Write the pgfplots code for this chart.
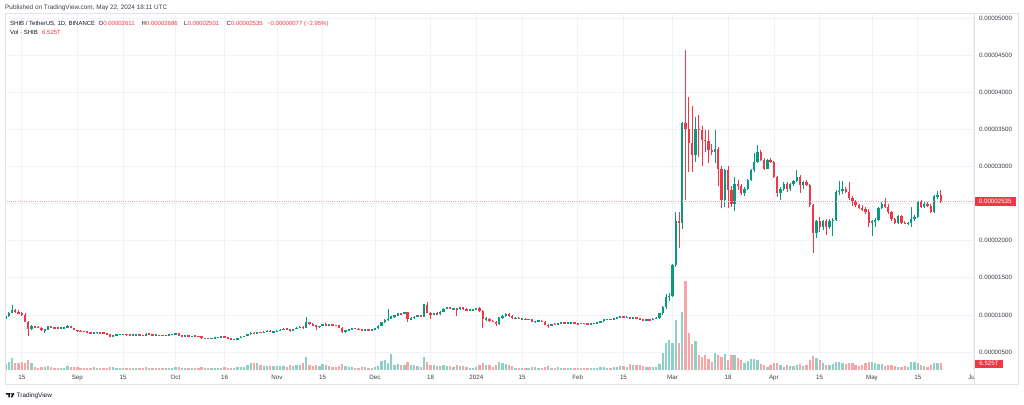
\documentclass[border=0pt]{standalone}
\usepackage{fontspec}
\setmainfont{Liberation Sans}
\usepackage{pgfplots}
\usepackage{pgfplotstable}
\pgfplotsset{compat=1.18}
\definecolor{upc}{HTML}{089981}
\definecolor{dnc}{HTML}{F23645}
\definecolor{upv}{HTML}{8ED0C6}
\definecolor{dnv}{HTML}{F8A5AA}
\definecolor{gridc}{HTML}{F0F3FA}
\definecolor{framec}{HTML}{E0E3EB}
\definecolor{txt}{HTML}{131722}
\definecolor{txt2}{HTML}{3B3F4A}
\definecolor{pline}{HTML}{F7A0A6}
\pgfplotstableread{
d o h l c v
-22 9.50 10.00 9.40 9.80 5.6
-21 9.80 10.40 9.70 10.30 7.4
-20 10.30 11.30 10.20 10.60 11.2
-19 10.60 10.80 10.30 10.40 6.5
-18 10.40 10.60 10.10 10.20 6.5
-17 10.20 10.40 9.90 10.05 7.4
-16 10.05 10.20 9.00 9.10 6.5
-15 9.10 9.20 7.20 8.10 9.3
-14 8.10 8.60 7.90 8.45 6.5
-13 8.45 8.55 8.25 8.35 2.8
-12 8.35 8.45 8.20 8.30 1.9
-11 8.30 8.35 7.85 7.95 2.8
-10 7.95 8.05 7.55 8.00 2.8
-9 8.00 8.55 7.95 8.50 3.7
-8 8.50 8.55 8.20 8.30 2.8
-7 8.30 8.35 8.15 8.25 1.9
-6 8.25 8.30 8.18 8.22 1.9
-5 8.22 8.30 8.15 8.25 1.9
-4 8.25 8.32 8.15 8.28 1.9
-3 8.28 8.60 8.20 8.45 3.7
-2 8.45 8.50 8.20 8.25 2.8
-1 8.25 8.30 7.90 7.95 2.8
0 7.95 8.00 7.75 7.85 2.8
1 7.85 7.90 7.75 7.80 1.9
2 7.80 7.85 7.70 7.78 1.9
3 7.78 7.80 7.55 7.60 1.9
4 7.60 7.65 7.50 7.55 1.9
5 7.55 7.70 7.50 7.62 2.8
6 7.62 7.70 7.55 7.65 1.9
7 7.65 7.70 7.55 7.60 1.9
8 7.60 7.65 7.55 7.58 1.9
9 7.58 7.60 7.35 7.40 1.9
10 7.40 7.42 7.00 7.05 2.8
11 7.05 7.30 7.00 7.25 2.8
12 7.25 7.40 7.20 7.35 1.9
13 7.35 7.45 7.30 7.40 1.9
14 7.40 7.48 7.35 7.42 1.9
15 7.42 7.45 7.25 7.30 1.9
16 7.30 7.35 7.20 7.28 1.9
17 7.28 7.40 7.20 7.32 1.9
18 7.32 7.40 7.28 7.36 1.9
19 7.36 7.40 7.25 7.30 1.9
20 7.30 7.32 7.15 7.20 1.9
21 7.20 7.60 7.18 7.45 2.8
22 7.45 7.50 7.35 7.40 1.9
23 7.40 7.42 7.25 7.28 1.9
24 7.28 7.35 7.20 7.30 1.9
25 7.30 7.32 7.20 7.25 1.9
26 7.25 7.35 7.18 7.22 1.9
27 7.22 7.35 7.20 7.32 1.9
28 7.32 7.40 7.28 7.35 1.9
29 7.35 7.45 7.30 7.40 1.9
30 7.40 7.60 7.38 7.55 2.8
31 7.55 7.62 7.20 7.22 2.8
32 7.22 7.28 7.12 7.18 1.9
33 7.18 7.25 7.10 7.20 1.9
34 7.20 7.25 7.08 7.12 1.9
35 7.12 7.22 7.08 7.18 1.9
36 7.18 7.20 7.10 7.14 1.9
37 7.14 7.18 7.05 7.10 1.9
38 7.10 7.12 6.80 6.85 2.8
39 6.85 6.95 6.80 6.90 1.9
40 6.90 6.95 6.78 6.82 1.9
41 6.82 6.90 6.75 6.88 1.9
42 6.88 7.00 6.85 6.98 1.9
43 6.98 7.05 6.95 7.02 1.9
44 7.02 7.10 6.98 7.05 1.9
45 7.05 7.20 6.95 7.00 2.8
46 7.00 7.02 6.80 6.85 1.9
47 6.85 6.90 6.70 6.72 1.9
48 6.72 6.80 6.62 6.75 1.9
49 6.75 6.90 6.70 6.88 2.8
50 6.88 7.10 6.85 7.05 2.8
51 7.05 7.20 7.00 7.15 2.8
52 7.15 7.45 7.10 7.40 4.7
53 7.40 7.70 7.35 7.60 6.5
54 7.60 7.70 7.40 7.50 6.5
55 7.50 7.75 7.45 7.70 6.5
56 7.70 7.75 7.55 7.62 4.7
57 7.62 7.80 7.58 7.75 3.7
58 7.75 7.95 7.70 7.88 3.7
59 7.88 7.90 7.68 7.72 3.7
60 7.72 7.85 7.65 7.80 3.7
61 7.80 7.95 7.70 7.85 3.7
62 7.85 8.05 7.80 8.00 3.7
63 8.00 8.25 7.95 8.15 3.7
64 8.15 8.20 8.00 8.05 2.8
65 8.05 8.10 7.65 7.95 4.7
66 7.95 8.15 7.90 8.10 3.7
67 8.10 8.35 8.05 8.30 4.7
68 8.30 8.45 8.20 8.40 4.7
69 8.40 8.50 8.15 8.30 6.5
70 8.30 9.70 8.25 9.00 12.1
71 9.00 9.10 8.70 8.80 4.7
72 8.80 8.90 8.55 8.60 3.7
73 8.60 8.70 8.00 8.40 4.7
74 8.40 8.55 8.30 8.50 3.7
75 8.50 8.80 8.45 8.75 5.6
76 8.75 8.85 8.50 8.55 4.7
77 8.55 8.80 8.50 8.75 3.7
78 8.75 8.80 8.55 8.62 2.8
79 8.62 8.70 8.50 8.60 2.8
80 8.60 8.65 8.20 8.30 3.7
81 8.30 8.35 7.60 7.70 5.6
82 7.70 8.00 7.62 7.95 3.7
83 7.95 8.15 7.90 8.10 2.8
84 8.10 8.25 8.05 8.20 2.8
85 8.20 8.28 8.10 8.15 1.9
86 8.15 8.20 7.95 8.00 1.9
87 8.00 8.05 7.90 7.95 2.8
88 7.95 8.10 7.90 8.05 2.8
89 8.05 8.10 7.95 8.00 1.9
90 8.00 8.10 7.95 8.05 1.9
91 8.05 8.25 8.00 8.20 2.8
92 8.20 8.60 8.15 8.55 3.7
93 8.55 9.10 8.50 9.00 8.4
94 9.00 9.40 8.90 9.30 9.3
95 9.30 10.80 9.20 9.50 6.5
96 9.50 9.90 9.40 9.80 14.9
97 9.80 10.00 9.60 9.90 4.7
98 9.90 10.30 9.80 10.20 5.6
99 10.20 10.30 10.05 10.15 4.7
100 10.15 10.45 10.10 10.40 4.7
101 10.40 10.45 9.10 9.45 7.4
102 9.45 9.70 9.30 9.55 4.7
103 9.55 9.80 9.40 9.75 4.7
104 9.75 10.05 9.70 9.95 3.7
105 9.95 10.00 9.70 9.75 2.8
106 9.75 11.50 9.70 11.40 12.1
107 11.40 11.80 10.20 10.30 7.4
108 10.30 10.40 9.50 10.00 4.7
109 10.00 10.30 9.95 10.25 4.7
110 10.25 10.35 10.05 10.10 3.7
111 10.10 10.50 10.05 10.45 3.7
112 10.45 10.95 10.40 10.85 4.7
113 10.85 11.05 10.75 11.00 3.7
114 11.00 11.10 10.75 10.80 3.7
115 10.80 10.95 10.70 10.85 2.8
116 10.85 10.90 9.90 10.75 4.7
117 10.75 11.05 10.70 11.00 3.7
118 11.00 11.05 10.70 10.80 3.7
119 10.80 10.90 10.55 10.65 2.8
120 10.65 10.75 10.55 10.70 1.9
121 10.70 10.85 10.60 10.75 1.9
122 10.75 10.95 10.65 10.90 2.8
123 10.90 11.00 10.45 10.50 4.7
124 10.50 10.60 8.20 9.40 6.5
125 9.40 9.65 9.20 9.50 4.7
126 9.50 9.55 9.10 9.20 4.7
127 9.20 9.30 9.00 9.10 2.8
128 9.10 9.20 8.55 8.80 4.7
129 8.80 9.75 8.60 9.65 7.4
130 9.65 10.00 9.45 9.85 6.5
131 9.85 10.30 9.70 10.10 5.6
132 10.10 10.25 9.75 9.80 4.7
133 9.80 9.95 9.45 9.55 3.7
134 9.55 9.70 9.50 9.60 1.9
135 9.60 9.65 9.40 9.45 1.9
136 9.45 9.55 9.38 9.48 1.9
137 9.48 9.55 9.30 9.35 1.9
138 9.35 9.50 9.30 9.45 1.9
139 9.45 9.50 9.00 9.10 2.8
140 9.10 9.20 8.90 9.15 2.8
141 9.15 9.25 9.10 9.20 1.9
142 9.20 9.25 9.05 9.10 1.9
143 9.10 9.15 8.60 8.65 2.8
144 8.65 8.75 8.30 8.55 3.7
145 8.55 8.80 8.50 8.75 1.9
146 8.75 8.85 8.65 8.70 1.9
147 8.70 8.95 8.65 8.90 2.8
148 8.90 8.98 8.85 8.92 1.9
149 8.92 9.00 8.85 8.90 1.9
150 8.90 9.00 8.85 8.95 1.9
151 8.95 9.05 8.88 8.98 1.9
152 8.98 9.00 8.80 8.85 1.9
153 8.85 8.92 8.72 8.80 1.9
154 8.80 8.95 8.78 8.90 1.9
155 8.90 8.95 8.85 8.88 1.9
156 8.88 8.90 8.70 8.75 1.9
157 8.75 8.85 8.70 8.80 1.9
158 8.80 8.95 8.75 8.92 1.9
159 8.92 9.05 8.88 9.00 1.9
160 9.00 9.20 8.95 9.15 2.8
161 9.15 9.45 9.10 9.40 2.8
162 9.40 9.48 9.30 9.42 1.9
163 9.42 9.50 9.35 9.40 1.9
164 9.40 9.60 9.35 9.55 2.8
165 9.55 9.70 9.45 9.65 2.8
166 9.65 9.85 9.60 9.80 3.7
167 9.80 9.90 9.60 9.65 3.7
168 9.65 9.80 9.60 9.72 2.8
169 9.72 9.78 9.50 9.55 5.6
170 9.55 9.70 9.50 9.65 4.7
171 9.65 9.75 9.45 9.50 4.7
172 9.50 9.60 9.30 9.40 4.7
173 9.40 9.45 9.25 9.35 3.7
174 9.35 9.45 9.25 9.38 2.8
175 9.38 9.45 9.28 9.32 2.8
176 9.32 9.55 9.30 9.50 2.8
177 9.50 9.70 9.45 9.60 2.8
178 9.60 10.30 9.45 10.20 5.6
179 10.20 11.20 10.00 11.00 15.8
180 11.00 12.80 10.80 12.40 25.1
181 12.40 13.00 11.90 12.60 27.9
182 12.60 16.90 12.40 16.70 25.1
183 16.70 23.80 16.50 22.60 46.5
184 22.60 23.90 19.00 22.40 25.1
185 22.40 36.00 21.60 35.80 54.0
186 35.80 45.70 25.50 35.10 82.8
187 35.10 39.40 29.30 33.10 34.4
188 33.10 38.10 29.30 31.60 24.2
189 31.60 36.70 30.60 35.10 27.0
190 35.10 36.90 31.30 34.90 14.0
191 34.90 35.50 30.00 33.60 12.1
192 33.60 34.90 32.00 33.40 14.0
193 33.40 34.90 30.40 32.20 10.2
194 32.20 33.00 31.50 32.00 7.4
195 32.00 34.90 30.40 32.30 15.8
196 32.30 32.60 27.30 29.70 14.0
197 29.70 30.00 24.40 25.50 12.1
198 25.50 29.70 24.60 29.50 14.9
199 29.50 30.00 24.40 26.80 9.3
200 26.80 27.30 24.50 25.00 14.0
201 25.00 28.60 24.00 27.70 14.0
202 27.70 28.20 26.80 27.30 11.2
203 27.30 27.70 26.20 26.40 9.3
204 26.40 27.20 26.00 27.00 6.5
205 27.00 28.30 26.80 28.20 8.4
206 28.20 29.60 28.00 29.50 10.2
207 29.50 31.80 29.30 30.60 10.2
208 30.60 32.90 30.40 32.00 9.3
209 32.00 32.20 30.70 30.90 5.6
210 30.90 31.10 29.50 29.70 4.7
211 29.70 31.00 29.60 30.90 2.8
212 30.90 31.10 30.40 30.60 4.7
213 30.60 30.70 28.40 28.60 6.5
214 28.60 28.70 25.90 26.40 6.5
215 26.40 27.20 25.50 27.00 4.7
216 27.00 27.90 26.70 27.70 2.8
217 27.70 27.90 26.60 26.90 4.7
218 26.90 27.80 26.70 27.60 3.7
219 27.60 28.20 27.40 28.10 3.7
220 28.10 29.50 27.90 28.60 4.7
221 28.60 28.80 26.40 27.50 5.6
222 27.50 28.10 27.00 27.90 3.7
223 27.90 28.20 27.30 27.50 4.7
224 27.50 27.70 24.50 24.80 9.3
225 24.80 25.00 18.40 21.00 13.0
226 21.00 22.80 20.30 22.60 11.2
227 22.60 23.20 21.20 21.90 9.3
228 21.90 22.80 21.40 22.60 6.5
229 22.60 22.90 20.80 21.90 4.7
230 21.90 22.90 21.60 22.70 4.7
231 22.70 23.00 20.60 22.80 5.6
232 22.80 26.80 22.60 26.60 7.4
233 26.60 28.10 26.20 26.70 7.4
234 26.70 28.10 26.30 26.90 6.5
235 26.90 27.20 26.40 26.60 5.6
236 26.60 27.90 25.50 25.70 6.5
237 25.70 26.00 24.70 25.30 6.5
238 25.30 25.50 24.60 24.80 4.7
239 24.80 25.00 24.20 24.40 3.7
240 24.40 24.80 24.00 24.20 4.7
241 24.20 24.50 23.60 23.90 6.5
242 23.90 24.20 21.80 22.40 7.4
243 22.40 22.80 20.60 22.60 7.4
244 22.60 23.00 21.90 22.80 6.5
245 22.80 24.60 22.60 24.40 5.6
246 24.40 25.20 24.20 25.00 5.6
247 25.00 25.70 24.40 24.60 3.7
248 24.60 25.00 23.60 23.80 4.7
249 23.80 24.00 22.70 22.90 4.7
250 22.90 23.10 22.20 22.40 3.7
251 22.40 23.40 22.20 23.30 2.8
252 23.30 23.40 22.30 22.40 2.8
253 22.40 22.60 22.20 22.30 3.7
254 22.30 22.50 22.10 22.35 2.8
255 22.35 24.60 21.80 22.90 7.4
256 22.90 23.40 22.60 23.20 7.4
257 23.20 25.40 23.00 25.30 6.5
258 25.30 25.50 24.40 24.60 4.7
259 24.60 25.20 24.40 25.00 3.7
260 25.00 25.20 24.50 24.70 2.8
261 24.70 24.90 23.70 23.90 4.7
262 23.90 26.10 23.70 26.00 6.5
263 26.00 26.70 25.60 26.11 6.5
264 26.11 26.86 25.01 25.35 6.525
}\shib
\pgfplotsset{
  candle/.style n args={2}{draw=none, mark=none, forget plot,
    error bars/.cd, y dir=both, y explicit, error mark=none,
    error bar style={draw=#1, solid, line width=#2}},
  isup/.style={restrict expr to domain={\thisrow{c}-\thisrow{o}}{0:100}},
  isdn/.style={restrict expr to domain={\thisrow{c}-\thisrow{o}}{-100:-0.0001}},
}
\begin{document}
\begin{tikzpicture}[x=1pt,y=1pt]
\useasboundingbox (0,0) rectangle (1024,404);
\fill[white] (0,0) rectangle (1024,404);
\begin{axis}[
  at={(5pt,34pt)}, anchor=south west,
  scale only axis, width=969pt, height=357pt,
  xmin=-22.13, xmax=274.2, ymin=2.575, ymax=50.675,
  axis line style={draw=none},
  tick style={draw=none},
  xtick={-17,0,14,30,45,61,75,91,108,122,136,153,167,182,199,213,227,243,257,274},
  xticklabels={15,Sep,15,Oct,16,Nov,15,Dec,18,2024,15,Feb,15,Mar,18,Apr,15,May,15,Jun},
  ytick={5,10,15,20,25,30,35,40,45,50},
  yticklabels={0.00000500,0.00001000,0.00001500,0.00002000,0.00002500,0.00003000,0.00003500,0.00004000,0.00004500,0.00005000},
  yticklabel pos=right,
  grid=major,
  major grid style={gridc, line width=0.6pt},
  ticklabel style={font=\fontsize{6.2}{7}\selectfont, text=txt2, inner sep=0pt},
  yticklabel style={anchor=west, xshift=5pt},
  xticklabel style={anchor=base, yshift=-9.2pt},
  clip=true,
]
% volume
\addplot[isup, ycomb, color=upv, line width=2.3pt, forget plot, mark=none]
  table[x=d, y expr={2.575+\thisrow{v}/6.917}] {\shib};
\addplot[isdn, ycomb, color=dnv, line width=2.3pt, forget plot, mark=none]
  table[x=d, y expr={2.575+\thisrow{v}/6.917}] {\shib};
% wicks
\addplot[isup, candle={upc}{0.8pt}]
  table[x=d, y expr={(\thisrow{h}+\thisrow{l})/2}, y error expr={(\thisrow{h}-\thisrow{l})/2}] {\shib};
\addplot[isdn, candle={dnc}{0.8pt}]
  table[x=d, y expr={(\thisrow{h}+\thisrow{l})/2}, y error expr={(\thisrow{h}-\thisrow{l})/2}] {\shib};
% bodies
\addplot[isup, candle={upc}{2.3pt}]
  table[x=d, y expr={(\thisrow{o}+\thisrow{c})/2}, y error expr={max(abs(\thisrow{c}-\thisrow{o})/2,0.07)}] {\shib};
\addplot[isdn, candle={dnc}{2.3pt}]
  table[x=d, y expr={(\thisrow{o}+\thisrow{c})/2}, y error expr={max(abs(\thisrow{c}-\thisrow{o})/2,0.07)}] {\shib};
% current price line
\addplot[draw=pline, mark=none, dash pattern=on 1pt off 1.2pt, line width=0.5pt, forget plot] coordinates {(-23,25.35) (275,25.35)};
\end{axis}
% cover clipped part of Jun label
\fill[white] (974.4,20.4) rectangle (1017.6,33.6);
% frame
\draw[framec, line width=0.6pt] (5,20) rectangle (1018,391);
\draw[framec, line width=0.6pt] (974,20) -- (974,391);
% price label
\fill[dnc] (975,197.5) rectangle (1015.5,207.2);
\node[anchor=center, inner sep=0pt, text=white, font=\fontsize{6.2}{7}\selectfont] at (995.25,202.3) {0.00002535};
% volume label
\fill[dnc] (975,36) rectangle (1003,44.5);
\node[anchor=center, inner sep=0pt, text=white, font=\fontsize{6.2}{7}\selectfont] at (989,40.2) {6.525T};
% header
\node[anchor=base west, inner sep=0pt, text=txt2, font=\fontsize{6.4}{7}\selectfont] at (5,394.8) {Published on TradingView.com, May 22, 2024 18:11 UTC};
\begin{scope}[every node/.style={anchor=base west, inner sep=0pt, font=\fontsize{6}{7}\selectfont, text=txt}]
\node at (10,378.8) {SHIB / TetherUS, 1D, BINANCE};
\node at (98.5,378.8) {O\textcolor{dnc}{0.00002611}};
\node at (141.5,378.8) {H\textcolor{dnc}{0.00002686}};
\node at (184,378.8) {L\textcolor{dnc}{0.00002501}};
\node at (226.5,378.8) {C\textcolor{dnc}{0.00002535}};
\node[text=dnc] at (267,378.8) {\textminus0.00000077 (\textminus2.95\%)};
\node at (10,369.3) {Vol \textperiodcentered\ SHIB};
\node[text=dnc] at (42,369.3) {6.525T};
\end{scope}
% TradingView logo
\fill[txt] (5.8,11) -- (9.9,11) -- (9.9,6.6) -- (8.3,6.6) -- (8.3,9.5) -- (5.8,9.5) -- cycle;
\fill[txt] (11.1,10.1) circle (0.85);
\fill[txt] (12.6,11) -- (14.4,11) -- (12.5,6.6) -- (10.7,6.6) -- cycle;
\node[anchor=base west, inner sep=0pt, text=txt, font=\fontsize{6.4}{7}\selectfont] at (16.5,6.8) {TradingView};
\end{tikzpicture}
\end{document}
